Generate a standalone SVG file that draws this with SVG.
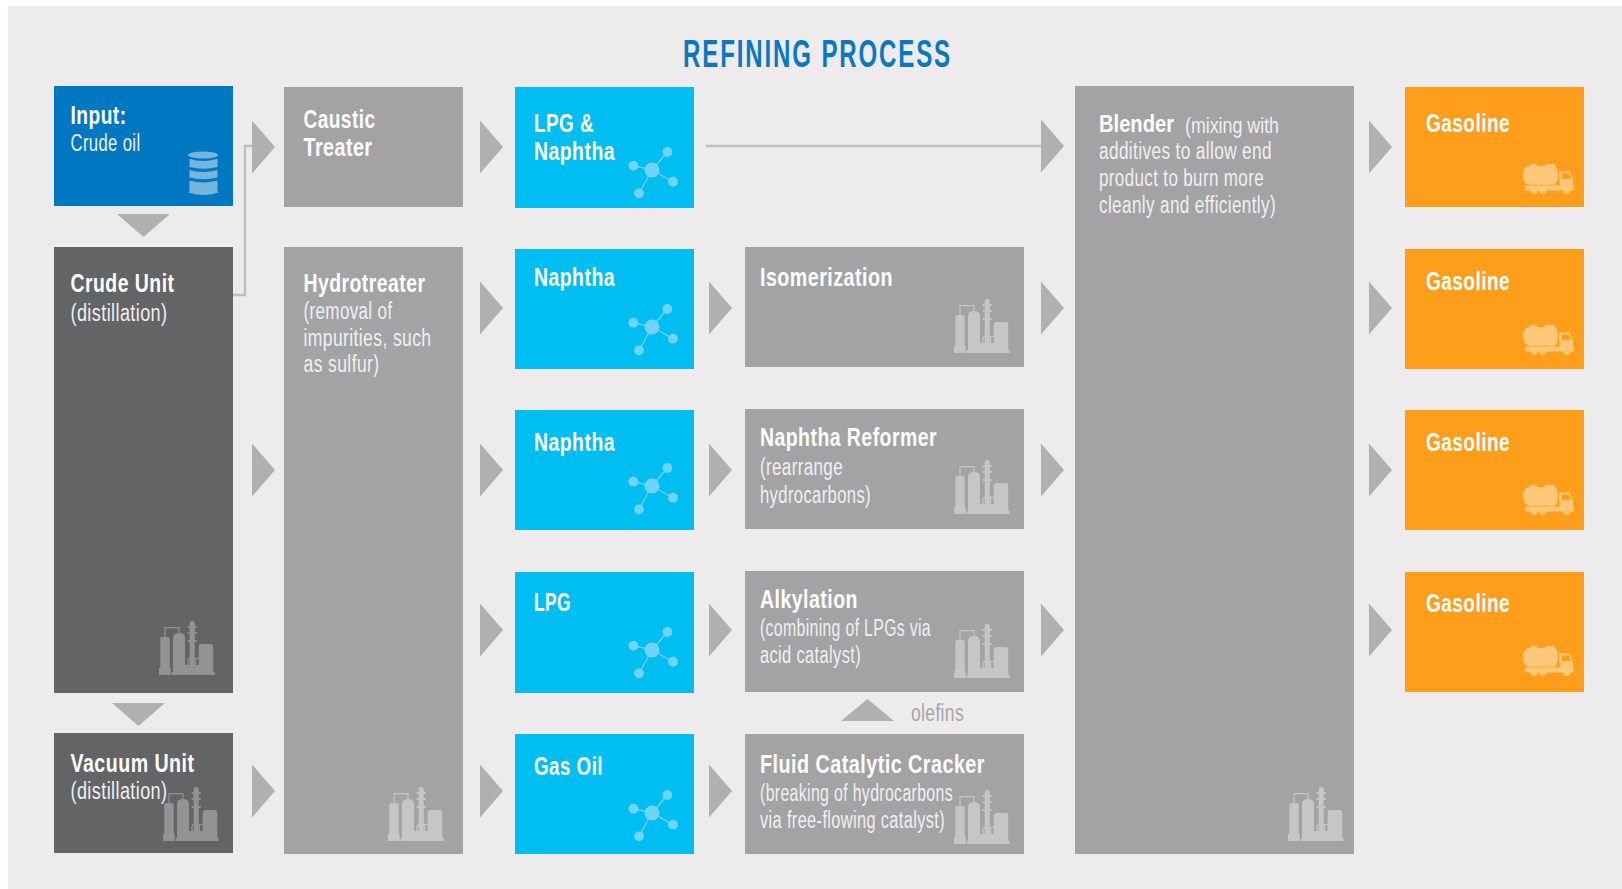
<svg xmlns="http://www.w3.org/2000/svg" width="1622" height="889" viewBox="0 0 1622 889">
<style>
text{font-family:"Liberation Sans Narrow","Liberation Sans",Arial,sans-serif;fill:#fff}
.t{font-size:25px;font-weight:700;letter-spacing:.6px}
.s{font-size:23px;fill:#f0f0f1;letter-spacing:.5px;transform:translateY(.5px)}
.t2{font-size:24px;font-weight:700}
.s2{font-size:22px;fill:#f0f0f1;transform:translateY(.5px)}
.blue{fill:#0078c1}.grey{fill:#a3a3a5}.dark{fill:#636466}.cyan{fill:#00bdf2}.orange{fill:#ff9e1b}
.arrow{fill:#b1afb0}
.line{fill:none;stroke:#bfbebf;stroke-width:2.400}
.fg{color:#c6c6c7}.fd{color:#929394}
</style>
<defs>
<symbol id="factory" width="56" height="54" viewBox="0 0 56 54" overflow="visible">
<g fill="currentColor">
<path d="M1.300 47V18q0-2 2-2h5.400q2 0 2 2V47h1V54H0V47z"/>
<path d="M14 51V17q0-5 6-5t6 5V44h2.700V51z"/>
<path d="M30.700 44V2q0-2 2.500-2t2.500 2V5H37.700V7H35.700V11H37.700V13H35.700V19H37.700V21H35.700V44z"/>
<path d="M30.700 5H28.700V7H30.700zM30.700 11H28.700V13H30.700zM30.700 19H28.700V21H30.700z"/>
<rect x="12.700" y="51" width="43" height="3"/>
<path d="M39.700 51V26q0-3 3-3h8.600q3 0 3 3V51z"/>
<rect x="26" y="44" width="14" height="7"/>
</g>
<path d="M6 16V6.700H20V12M29 44V40q0-2.700 2.500-2.700H40M36.500 37.500V44" fill="none" stroke="currentColor" stroke-width="1.200"/>
</symbol>
<symbol id="molecule" width="50" height="50" viewBox="-25 -25 50 50" overflow="visible">
<g fill="#70d4f7" stroke="#70d4f7" stroke-width="1.300">
<path d="M0 0L15.400-18M0 0L-18.600-4.300M0 0L21 11.700M0 0L-13 23.300" fill="none"/>
<circle r="7.500" stroke="none"/>
<circle cx="15.400" cy="-18" r="4.900" stroke="none"/>
<circle cx="-18.600" cy="-4.300" r="4.900" stroke="none"/>
<circle cx="21" cy="11.700" r="4.900" stroke="none"/>
<circle cx="-13" cy="23.300" r="4.900" stroke="none"/>
</g>
</symbol>
<symbol id="truck" width="51" height="30" viewBox="0 0 51 30" overflow="visible">
<g fill="#ffc77a">
<path d="M7 2V0.800q0-.8 1-.8H13q1 0 1 .8V2H22V.8q0-.8 1-.8H31q1 0 1 .8V2Q35 5 35 11T32 20.700H5Q0 18 0 11T5 2z"/>
<path d="M36 7.300H47L50 16V25H37z"/>
<rect x="2" y="21.500" width="49" height="5"/>
<circle cx="11.300" cy="26.300" r="3.500"/><circle cx="19.700" cy="26.300" r="3.500"/><circle cx="43.700" cy="26.300" r="3.700"/>
</g>
<path d="M39 9.500H46L48 15H39z" fill="#ff9e1b"/>
</symbol>
<polygon id="ar" points="0,-26.500 23,0 0,26.500" class="arrow"/>
</defs>
<rect x="8" y="6" width="1614" height="883" fill="#edebec"/>
<text id="title" x="683" y="67" font-size="38" font-weight="700" letter-spacing="3" textLength="269" lengthAdjust="spacingAndGlyphs" style="fill:#0a78c0">REFINING PROCESS</text>

<g id="connectors">
<path class="line" d="M232 295H245V146H254"/>
<path class="line" d="M706 146H1043"/>
<polygon class="arrow" points="117,214 170,214 143.500,237"/>
<polygon class="arrow" points="112,703 165,703 138.500,726"/>
<polygon class="arrow" points="841,721 894,721 867.500,699"/>
<use href="#ar" x="252" y="147"/><use href="#ar" x="252" y="470"/><use href="#ar" x="252" y="791"/>
<use href="#ar" x="480" y="147"/><use href="#ar" x="480" y="308"/><use href="#ar" x="480" y="470"/><use href="#ar" x="480" y="630"/><use href="#ar" x="480" y="791"/>
<use href="#ar" x="709" y="308"/><use href="#ar" x="709" y="470"/><use href="#ar" x="709" y="630"/><use href="#ar" x="709" y="791"/>
<use href="#ar" x="1041" y="146"/><use href="#ar" x="1041" y="308"/><use href="#ar" x="1041" y="470"/><use href="#ar" x="1041" y="630"/>
<use href="#ar" x="1369" y="147"/><use href="#ar" x="1369" y="308"/><use href="#ar" x="1369" y="470"/><use href="#ar" x="1369" y="630"/>
</g>

<g id="input"><rect class="blue" x="54" y="86" width="179" height="120"/>
<text class="t" x="70.500" y="124" textLength="56" lengthAdjust="spacingAndGlyphs">Input:</text>
<text class="s" x="70.500" y="150" textLength="70" lengthAdjust="spacingAndGlyphs">Crude oil</text>
<g fill="#74b6e0"><ellipse cx="203" cy="155" rx="15" ry="3.500"/>
<path d="M189.500 159q13.500 4 28 0V167q-14 3.500-28 0z"/><path d="M189.500 170q13.500 4 28 0V177.500q-14 3.500-28 0z"/><path d="M189.500 180.500q13.500 4 28 0V191l1 1.500q-15 5-30 0l1-1.500z"/></g>
</g>
<g id="caustic-treater"><rect class="grey" x="284" y="87" width="179" height="120"/>
<text class="t" x="303.500" y="128" textLength="72" lengthAdjust="spacingAndGlyphs">Caustic</text>
<text class="t" x="303.500" y="156" textLength="69" lengthAdjust="spacingAndGlyphs">Treater</text></g>
<g id="crude-unit"><rect class="dark" x="54" y="247" width="179" height="446"/>
<text class="t" x="70.500" y="292" textLength="104" lengthAdjust="spacingAndGlyphs">Crude Unit</text>
<text class="s" x="70.500" y="320" textLength="97" lengthAdjust="spacingAndGlyphs">(distillation)</text>
<use href="#factory" class="fd" x="159" y="621"/></g>
<g id="vacuum-unit"><rect class="dark" x="54" y="733" width="179" height="120"/>
<text class="t" x="70.500" y="772" textLength="124" lengthAdjust="spacingAndGlyphs">Vacuum Unit</text>
<text class="s" x="70.500" y="798" textLength="97" lengthAdjust="spacingAndGlyphs">(distillation)</text>
<use href="#factory" class="fd" x="163" y="787"/></g>
<g id="hydrotreater"><rect class="grey" x="284" y="247" width="179" height="607"/>
<text class="t" x="303.500" y="292" textLength="122" lengthAdjust="spacingAndGlyphs">Hydrotreater</text>
<text class="s" x="303.500" y="318" textLength="89" lengthAdjust="spacingAndGlyphs">(removal of</text>
<text class="s" x="303.500" y="345" textLength="128" lengthAdjust="spacingAndGlyphs">impurities, such</text>
<text class="s" x="303.500" y="371" textLength="76" lengthAdjust="spacingAndGlyphs">as sulfur)</text>
<use href="#factory" class="fg" x="388" y="787"/></g>

<g id="lpg-naphtha"><rect class="cyan" x="515" y="87" width="179" height="121"/>
<text class="t" x="534" y="132" textLength="60" lengthAdjust="spacingAndGlyphs">LPG &amp;</text>
<text class="t" x="534" y="160" textLength="81" lengthAdjust="spacingAndGlyphs">Naphtha</text>
<use href="#molecule" x="627" y="145"/></g>
<g id="naphtha-1"><rect class="cyan" x="515" y="249" width="179" height="120"/>
<text class="t" x="534" y="286" textLength="81" lengthAdjust="spacingAndGlyphs">Naphtha</text>
<use href="#molecule" x="627" y="302"/></g>
<g id="naphtha-2"><rect class="cyan" x="515" y="410" width="179" height="120"/>
<text class="t" x="534" y="451" textLength="81" lengthAdjust="spacingAndGlyphs">Naphtha</text>
<use href="#molecule" x="627" y="461"/></g>
<g id="lpg"><rect class="cyan" x="515" y="572" width="179" height="121"/>
<text class="t" x="534" y="611" textLength="37" lengthAdjust="spacingAndGlyphs">LPG</text>
<use href="#molecule" x="627" y="625"/></g>
<g id="gas-oil"><rect class="cyan" x="515" y="734" width="179" height="120"/>
<text class="t" x="534" y="775" textLength="69" lengthAdjust="spacingAndGlyphs">Gas Oil</text>
<use href="#molecule" x="627" y="788"/></g>

<g id="isomerization"><rect class="grey" x="745" y="247" width="279" height="120"/>
<text class="t" x="760" y="286" textLength="133" lengthAdjust="spacingAndGlyphs">Isomerization</text>
<use href="#factory" class="fg" x="954" y="299"/></g>
<g id="naphtha-reformer"><rect class="grey" x="745" y="409" width="279" height="120"/>
<text class="t" x="760" y="446" textLength="177" lengthAdjust="spacingAndGlyphs">Naphtha Reformer</text>
<text class="s" x="760" y="474" textLength="83" lengthAdjust="spacingAndGlyphs">(rearrange</text>
<text class="s" x="760" y="502" textLength="111" lengthAdjust="spacingAndGlyphs">hydrocarbons)</text>
<use href="#factory" class="fg" x="954" y="460"/></g>
<g id="alkylation"><rect class="grey" x="745" y="571" width="279" height="121"/>
<text class="t" x="760" y="608" textLength="98" lengthAdjust="spacingAndGlyphs">Alkylation</text>
<text class="s" x="760" y="635" textLength="171" lengthAdjust="spacingAndGlyphs">(combining of LPGs via</text>
<text class="s" x="760" y="662" textLength="101" lengthAdjust="spacingAndGlyphs">acid catalyst)</text>
<use href="#factory" class="fg" x="954" y="624"/></g>
<text id="olefins" x="911" y="721" font-size="23" letter-spacing=".5" textLength="53" lengthAdjust="spacingAndGlyphs" style="fill:#a6a5a6">olefins</text>
<g id="fcc"><rect class="grey" x="745" y="734" width="279" height="120"/>
<text class="t" x="760" y="773" textLength="225" lengthAdjust="spacingAndGlyphs">Fluid Catalytic Cracker</text>
<text class="s" x="760" y="800" textLength="193" lengthAdjust="spacingAndGlyphs">(breaking of hydrocarbons</text>
<text class="s" x="760" y="827" textLength="185" lengthAdjust="spacingAndGlyphs">via free-flowing catalyst)</text>
<use href="#factory" class="fg" x="954" y="790"/></g>

<g id="blender"><rect class="grey" x="1075" y="86" width="279" height="768"/>
<text class="t2" x="1099" y="132" textLength="75" lengthAdjust="spacingAndGlyphs">Blender</text>
<text class="s2" x="1185" y="132" textLength="94" lengthAdjust="spacingAndGlyphs">(mixing with</text>
<text class="s" x="1099" y="158" textLength="173" lengthAdjust="spacingAndGlyphs">additives to allow end</text>
<text class="s" x="1099" y="185" textLength="165" lengthAdjust="spacingAndGlyphs">product to burn more</text>
<text class="s" x="1099" y="212" textLength="177" lengthAdjust="spacingAndGlyphs">cleanly and efficiently)</text>
<use href="#factory" class="fg" x="1288" y="787"/></g>

<g id="gasoline-1"><rect class="orange" x="1405" y="87" width="179" height="120"/>
<text class="t" x="1426" y="132" textLength="84" lengthAdjust="spacingAndGlyphs">Gasoline</text>
<use href="#truck" x="1523" y="164"/></g>
<g id="gasoline-2"><rect class="orange" x="1405" y="249" width="179" height="120"/>
<text class="t" x="1426" y="290" textLength="84" lengthAdjust="spacingAndGlyphs">Gasoline</text>
<use href="#truck" x="1523" y="325"/></g>
<g id="gasoline-3"><rect class="orange" x="1405" y="410" width="179" height="120"/>
<text class="t" x="1426" y="451" textLength="84" lengthAdjust="spacingAndGlyphs">Gasoline</text>
<use href="#truck" x="1523" y="485"/></g>
<g id="gasoline-4"><rect class="orange" x="1405" y="572" width="179" height="120"/>
<text class="t" x="1426" y="612" textLength="84" lengthAdjust="spacingAndGlyphs">Gasoline</text>
<use href="#truck" x="1523" y="646"/></g>
</svg>
